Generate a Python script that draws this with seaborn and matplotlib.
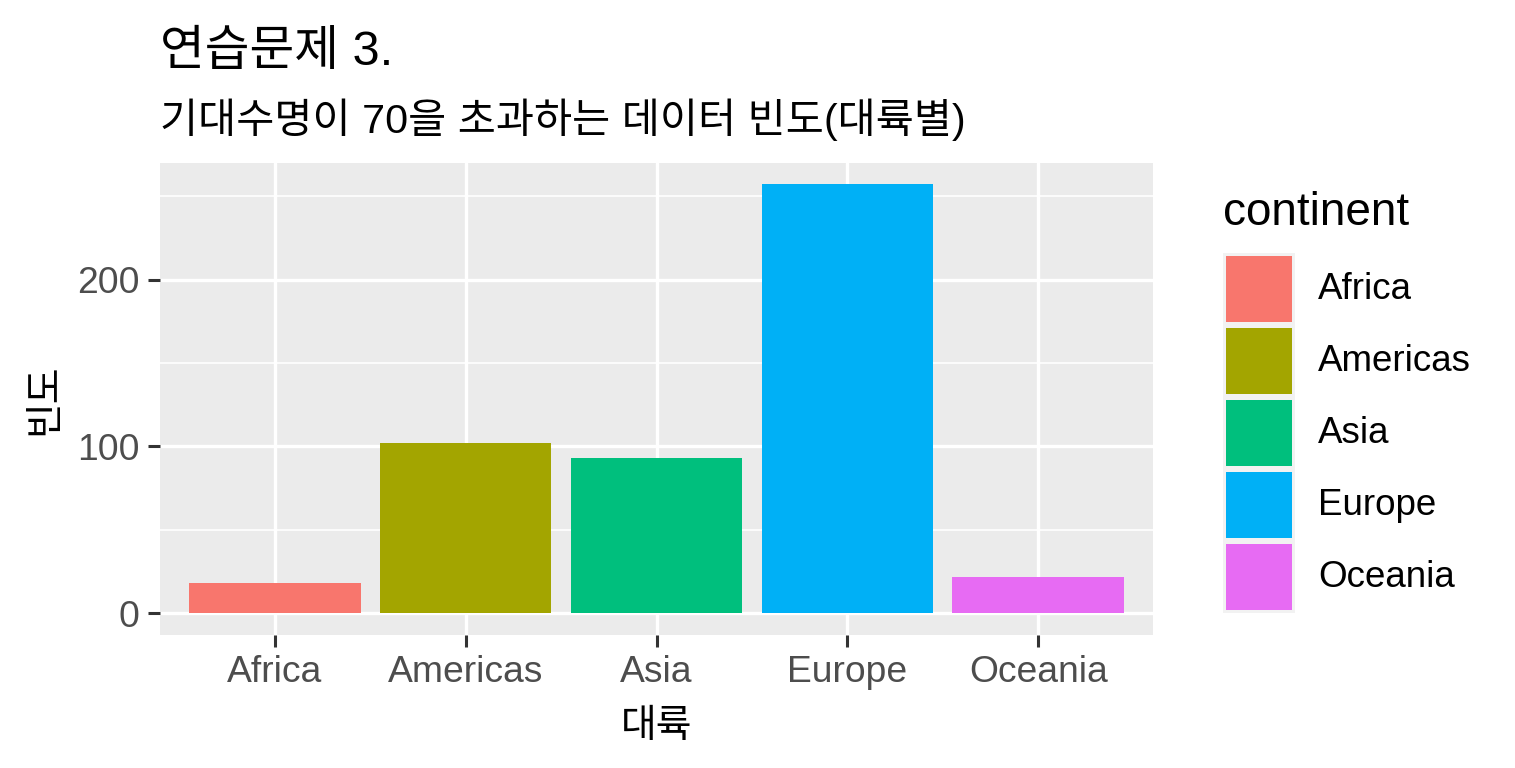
import numpy as np
import pandas as pd

import matplotlib
matplotlib.use("Agg")
import matplotlib.pyplot as plt
from matplotlib.patches import Patch
from matplotlib.ticker import MultipleLocator
import seaborn as sns

### Set seaborn parameters
sns.set_theme(style="darkgrid", rc={"axes.facecolor": "#EBEBEB", "grid.color": "white",
                                    "text.color": "black", "axes.labelcolor": "black"})
plt.rcParams['font.family'] = ['Liberation Sans', 'Noto Sans CJK KR']

# -- data -- #
continents = ["Africa", "Americas", "Asia", "Europe", "Oceania"]
counts = [18, 102, 93, 257, 22]
colors = ["#F8766D", "#A3A500", "#00BF7D", "#00B0F6", "#E76BF3"]
y_ticks = [0, 100, 200]

df = pd.DataFrame({"continent": continents, "count": counts})

W, H = 1515, 768
fig = plt.figure(figsize=(W / 100, H / 100), dpi=100)
ax = fig.add_axes([160 / W, 1 - 634.7 / H, (1153 - 160) / W, (634.7 - 163) / H])

sns.barplot(data=df, x="continent", y="count", hue="continent",
            palette=colors, width=0.9, saturation=1, legend=False,
            linewidth=0, ax=ax)

# ggplot-like expansion
ymax = max(counts)
ax.set_xlim(-0.6, len(continents) - 0.4)
ax.set_ylim(-0.05 * ymax, 1.05 * ymax)
ax.set_yticks(y_ticks)
ax.yaxis.set_minor_locator(MultipleLocator(50))

ax.grid(which="major", color="white", linewidth=2.4)
ax.grid(which="minor", axis="y", color="white", linewidth=1.2)
ax.set_axisbelow(True)
for s in ax.spines.values():
    s.set_visible(False)

ax.tick_params(axis="both", which="major", length=8.6, width=2.2, color="#333333",
               labelcolor="#4D4D4D", labelsize=26.8)
ax.tick_params(axis="x", which="major", pad=6)
ax.tick_params(axis="y", which="major", pad=6)
ax.tick_params(axis="both", which="minor", length=0)
ax.tick_params(axis="x", bottom=True)
ax.tick_params(axis="y", left=True)

ax.set_xlabel("대륙", fontsize=28, labelpad=14)
ax.set_ylabel("빈도", fontsize=28, labelpad=10)

# Title/subtitle
fig.text(160 / W, 1 - 65 / H, "연습문제 3.", fontsize=35, va="baseline", ha="left")
fig.text(160 / W, 1 - 133 / H, "기대수명이 70을 초과하는 데이터 빈도(대륙별)",
         fontsize=29.8, va="baseline", ha="left")

# legend
fig.text(1223 / W, 1 - 225 / H, "continent", fontsize=33, va="baseline", ha="left")
fs = 26.5
fs_px = fs / 0.72
# patch handle height = fs*(0.65*hh + 0.245) -> solve for a 69 px key
hh = (69 / fs_px - 0.245) / 0.65
handles = [Patch(facecolor=c, edgecolor="#F2F2F2", linewidth=2.16) for c in colors]
fig.legend(handles, continents, loc="upper left",
           bbox_to_anchor=(1223.5 / W, 1 - 253.5 / H), frameon=False,
           fontsize=fs, handlelength=69 / fs_px, handleheight=hh,
           labelspacing=3 / fs_px, handletextpad=25.5 / fs_px,
           borderpad=0, borderaxespad=0)

fig.savefig("out.png", dpi=100)
plt.close()
